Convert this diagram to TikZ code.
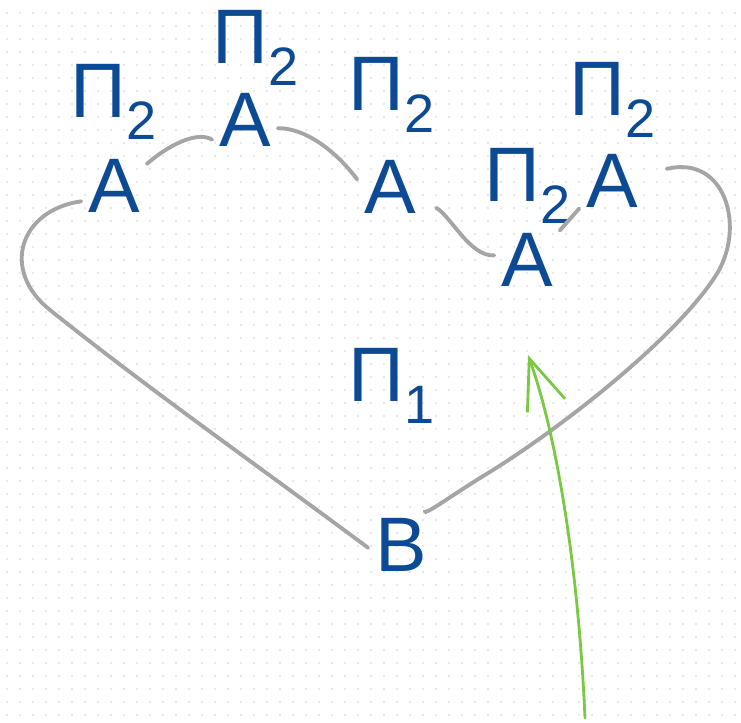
\documentclass[tikz,border=0pt]{standalone}
\usepackage{fontspec}
\setmainfont{Liberation Sans}
\usetikzlibrary{arrows.meta}
\definecolor{ink}{HTML}{0D4A94}
\definecolor{pencil}{HTML}{A5A5A5}
\definecolor{marker}{HTML}{7AC943}
\definecolor{dotgrid}{HTML}{E2E2E2}

\begin{document}
\begin{tikzpicture}[
  x=0.02cm, y=-0.02cm,
  obj/.style={text=ink, font=\fontsize{44}{48}\selectfont,
              inner sep=2pt, outer sep=2pt},
  proj/.style={text=ink, font=\fontsize{44}{48}\selectfont, inner sep=0pt},
  arc/.style={draw=pencil, line width=2.2pt, line cap=round},
  hint/.style={draw=marker, line width=1.6pt, line cap=round,
               -{Straight Barb[length=10mm,width=8mm]}},
]

% ---- paper ----------------------------------------------------------------
\useasboundingbox[fill=white] (0,0) rectangle (741,723);
\foreach \i in {0,...,56}
  \foreach \j in {0,...,55}
    \fill[dotgrid] (7+13*\i, 13+13*\j) circle (0.6pt);

% ---- objects --------------------------------------------------------------
\node[obj] (A1) at (114,186) {A};
\node[obj] (A2) at (245,120) {A};
\node[obj] (A3) at (390,187) {A};
\node[obj] (A4) at (527,260) {A};
\node[obj] (A5) at (612,181) {A};
\node[obj] (B)  at (401,545) {B};

% ---- projections ----------------------------------------------------------
\node[proj] (p1) at (114,102) {Π\textsubscript{2}};
\node[proj] (p2) at (256,48)  {Π\textsubscript{2}};
\node[proj] (p3) at (392,95)  {Π\textsubscript{2}};
\node[proj] (p4) at (528,186) {Π\textsubscript{2}};
\node[proj] (p5) at (613,100) {Π\textsubscript{2}};
\node[proj] (q1) at (392,386) {Π\textsubscript{1}};

% ---- the loop -------------------------------------------------------------
\draw[arc] (A1.205) .. controls (20,210) and (0,270) .. (50,310)
                    .. controls (150,390) and (250,460) .. (B.185);
\draw[arc] (A1.34)  .. controls (175,140) and (200,132) .. (A2.211);
\draw[arc] (A2.-14) .. controls (305,128) and (335,150) .. (A3.167);
\draw[arc, shorten <=0.3cm]
           (A3.-23) .. controls (450,215) and (470,257) .. (A4.172);
\draw[arc] (A4.42)  -- (A5.220);
\draw[arc, shorten <=0.45cm]
           (A5.12)  .. controls (725,155) and (745,225) .. (718,272)
                    .. controls (680,335) and (560,430) .. (480,478)
                    .. controls (445,500) and (425,515) .. (B.55);

% ---- hint arrow -----------------------------------------------------------
\coordinate (gfoot) at (585,718);
\coordinate (gtip)  at (528,355);
\draw[hint] (gfoot) .. controls (578,560) and (555,430) .. (gtip);

\end{tikzpicture}
\end{document}
